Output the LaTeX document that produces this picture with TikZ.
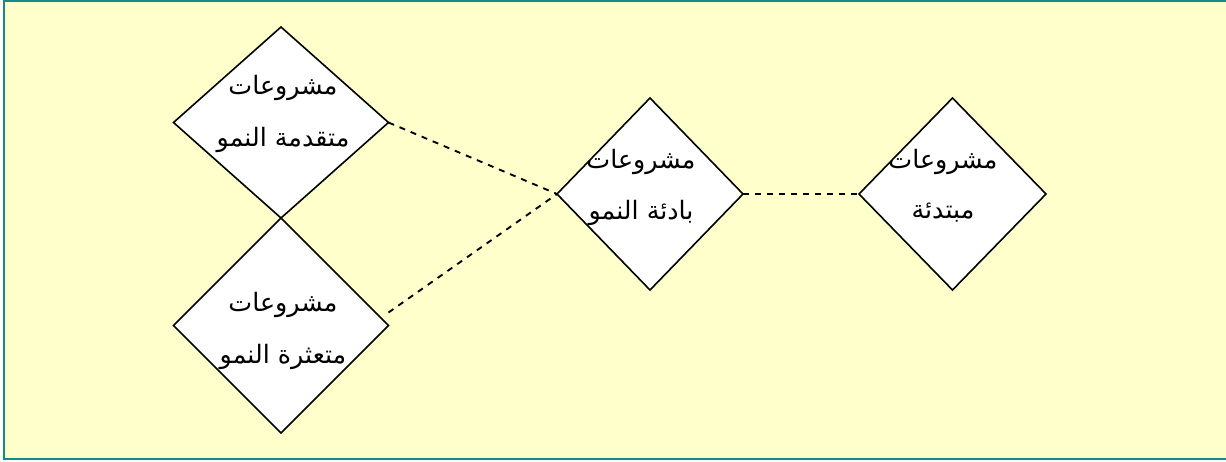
\documentclass[tikz,border=0pt]{standalone}
\usepackage{fontspec}
\usetikzlibrary{shapes.geometric,calc}
\TeXXeTstate=1
\newfontfamily\arabicfont[Script=Arabic]{DejaVu Sans}
\definecolor{bgyellow}{HTML}{FFFFCC}
\definecolor{frameteal}{HTML}{168A8A}
\tikzset{
  dia/.style={shape=diamond, draw=black, fill=white, line width=1.2pt, inner sep=0pt, outer sep=0pt},
  lbl/.style={inner sep=0pt, font=\arabicfont\fontsize{19pt}{22pt}\selectfont},
  link/.style={draw=black, line width=1.4pt, dash pattern=on 4.5pt off 4.5pt}
}
\begin{document}
\begin{tikzpicture}[x=0.75pt,y=-0.75pt]
\useasboundingbox (0,0) rectangle (1226,461);
\clip (0,0) rectangle (1226,461);
\fill[white] (0,0) rectangle (1226,461);
\draw[frameteal, line width=1.8pt, fill=bgyellow] (4,1) rectangle (1245,459);
\node[dia, minimum width=161.25pt, minimum height=143.25pt] (tl) at (281,122.5) {};
\node[dia, minimum width=161.25pt, minimum height=161.25pt] (bl) at (281,325.5) {};
\node[dia, minimum width=139.5pt, minimum height=144pt] (md) at (650,194) {};
\node[dia, minimum width=140.25pt, minimum height=144pt] (rt) at (952.5,194) {};
\coordinate (blc) at ($(bl.east)+(0,-13)$);
\draw[link] (tl.east) -- (md.west);
\draw[link] (blc) -- (md.west);
\draw[link] (md.east) -- (rt.west);
\node[lbl] (tl1) at (283,88) {\beginR مشروعات\endR};
\node[lbl] (tl2) at (283,140) {\beginR متقدمة النمو\endR};
\node[lbl] (bl1) at (283,305) {\beginR مشروعات\endR};
\node[lbl] (bl2) at (283,357) {\beginR متعثرة النمو\endR};
\node[lbl] (md1) at (641,162) {\beginR مشروعات\endR};
\node[lbl] (md2) at (641,213) {\beginR بادئة النمو\endR};
\node[lbl] (rt1) at (943,162) {\beginR مشروعات\endR};
\node[lbl] (rt2) at (943,213) {\beginR مبتدئة\endR};
\end{tikzpicture}
\end{document}
